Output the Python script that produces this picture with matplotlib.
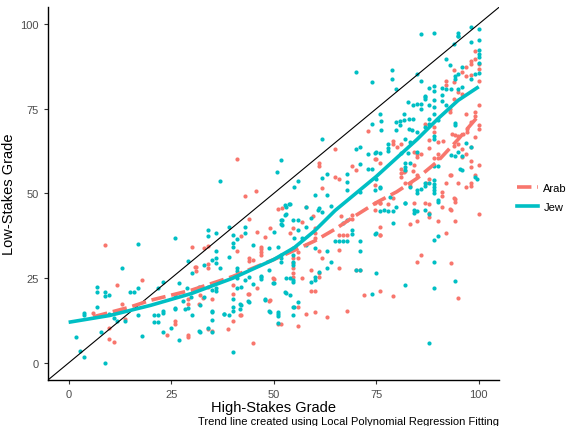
import matplotlib
matplotlib.use('Agg')
import matplotlib.pyplot as plt
from matplotlib.lines import Line2D

plt.rcParams['font.family'] = ['Liberation Sans', 'DejaVu Sans']

# scatter points (High-Stakes, Low-Stakes)
arab_pts = [
    (5.9, 14.8), (8.9, 34.9), (9.9, 10.4), (9.9, 7), (11, 6.2), (11.9, 23), (13, 17.3), (13.8, 13),
    (17.9, 24.5), (24, 8.2), (26, 12.4), (26, 11.4), (29, 19), (29, 17.3), (29, 8.2), (29, 7.8),
    (30, 34.2), (31, 28.2), (31, 27.2), (32, 20), (33, 33.9), (34, 34.4), (34, 28), (34, 29.2),
    (35, 18.9), (38.9, 10.1), (40, 23), (40, 12.4), (41, 32.9), (42, 14.1), (42, 37.5), (44, 30.9),
    (44, 30.1), (44, 20.3), (44, 42.4), (45, 30.4), (45, 5.9), (46, 38.5), (46, 22.2), (47, 32.7),
    (47, 31.9), (47, 34.1), (48, 37.2), (49, 39.8), (49, 18.6), (50, 24.8), (51, 11.4), (51, 45.3),
    (52, 45.8), (41, 60.3), (45.8, 50.8), (43, 49.2), (46.9, 33.5), (30.8, 28.2), (33.9, 22.5),
    (31.8, 17.5), (32.8, 19.3), (33.9, 10.1), (34.9, 9.3), (40, 20.3), (41.9, 14), (43.8, 20.4),
    (48.9, 18.4), (49.9, 25), (51.9, 11.6),
    (64.9, 63), (61, 59), (61, 58), (64.9, 54.9), (66, 54.2), (69, 58.1), (70, 56.9), (73, 68.3),
    (75, 60.1), (75.9, 47.3), (61.9, 51.7), (58, 46), (56.8, 41.7), (59.5, 43.3), (60, 39.9),
    (60, 38.2), (60, 36.8), (54.8, 39.7), (53.9, 38.2), (61, 33), (61.9, 31.1), (54.8, 31),
    (54.8, 29.5), (54.8, 28), (54.8, 26.5), (54.8, 25.3), (56, 32.8), (56, 30.9), (57, 25.2),
    (59, 27.4), (59, 21.1), (60, 21.3), (61.1, 26.5), (61.1, 25.5), (56, 16.5), (56, 11), (58, 14.4),
    (60, 15), (62.9, 13.7), (66, 33.3), (66, 28.1), (66, 37.9), (67, 37.9), (68, 37.9), (68, 15.2),
    (69, 43.8), (69, 42.6), (66.5, 43.5), (70, 27.5), (71, 27.5), (72, 20.1), (75.9, 21.3), (76, 37.9),
    (87, 70.6), (88, 70.3), (89, 69.6), (89, 68.1), (92, 83.3), (92, 82.1), (93, 74), (93, 75),
    (94, 86.3), (94, 82.8), (94, 77.9), (95, 79.9), (96, 86), (97, 87.2), (96, 79.4), (97, 84.8),
    (98, 85), (98, 89.2), (98, 88.2), (99, 92.1), (99, 89.7), (100, 86.8), (100, 88.2), (100, 83.3),
    (97, 73.5), (98, 71.1), (99, 74), (99, 73), (100, 76.2), (100, 70.1), (100, 68.9), (93.5, 67.5),
    (96.2, 67.6), (97.2, 68.1), (97.2, 69.1),
    (79.1, 65.5), (79.1, 64.7), (88, 65.9), (90.1, 65.2), (91.3, 65.5), (94.1, 67.2), (95, 66.9),
    (99, 66.7), (98.2, 63.7), (74.6, 60.3), (75.9, 59), (81, 64.7), (80, 63.7), (84.2, 62.3),
    (85, 61.8), (85, 60.8), (86, 61.8), (84.2, 58.3), (81, 57.1), (81, 56.1), (81, 54.9), (82.1, 56.7),
    (88, 63.5), (89.1, 60.6), (90.1, 60.6), (93.2, 55.4), (98.2, 57.8), (100, 58.3), (99, 55.4),
    (98.2, 52.2), (97, 52), (95, 53), (82.1, 53), (83.2, 53), (83.2, 52.2), (74.6, 52.5), (74.6, 47.1),
    (75.9, 47.1), (74.6, 45.1), (84.2, 47.1), (87, 47.1), (88, 46.9), (88, 44.3), (88, 43.1),
    (91.1, 46.1), (94.1, 48.5), (94.1, 47.5), (93.2, 45.1), (100, 43.9), (75.9, 40.2), (75.9, 37.7),
    (83.2, 41), (85, 42), (90.1, 42), (94.1, 42), (92.1, 38.4), (86, 31.9), (85, 29.9), (93.2, 29.4),
    (79.1, 19.9), (95, 19.1), (96, 63.2), (96, 60.8), (95, 64.7), (94, 64), (93, 55.6), (98, 53.2),
    (87.2, 53), (88, 54.2), (92, 53), (91, 50.5), (91, 49.3), (93, 45.4), (94, 48.7), (85, 55.4),
    (84, 56.5), (81.9, 56.4), (78, 47), (79, 48.8), (90, 61.8), (97, 61.8), (98, 59.5),
]

jew_pts = [
    (1.8, 7.7), (2.8, 3.6), (3.8, 1.7), (3.8, 14.8), (3.8, 14.1), (6.9, 16.4), (6.9, 22.5), (6.9, 20.8),
    (7.9, 9.2), (8.9, 20.8), (8.9, 19.8), (8.9, 0), (9.9, 20), (9.9, 14.3), (11, 13.3), (11.9, 12.4),
    (13, 28), (13.8, 12.4), (14.9, 20.8), (15.9, 20.8), (16.8, 35.2), (16.8, 22.2), (16.8, 14.1),
    (17.9, 8), (20.9, 14), (21.9, 14), (20.9, 12.2), (21.9, 12.2), (21.9, 22.2), (22.9, 24),
    (22.9, 15.3), (22.9, 14.6), (22.9, 9.2), (25, 10.4), (26, 36.9), (26, 16.3), (26, 15.8), (26, 20),
    (27, 6.7), (27, 23.5), (28, 18.3), (29, 30), (29, 16.1), (30, 26.5), (30, 14), (32, 22.2),
    (32, 17.1), (32, 9), (33, 19.5), (34, 39.1), (34, 37.4), (34, 10.2), (35, 14.9), (35, 9.2),
    (36, 32.9), (36, 31.1), (36, 29.4), (36, 22), (36, 38.3), (37, 28), (38, 14.3), (39, 40),
    (39, 31.4), (39, 14.1), (40, 37.8), (40, 34.1), (40, 19), (40, 16.4), (40, 3.3), (41, 28),
    (41, 22), (42, 17.1), (42, 22.5), (43, 40), (43, 38.3), (43, 24.5), (44, 25.5), (44, 18.1),
    (45, 34.9), (45, 23.2), (47, 25.5), (48, 18.6), (49, 15.1), (50, 38.5), (50, 23.5), (51, 14.3),
    (51, 13.8), (52, 40.8), (52, 42.3), (53, 44), (53, 20.5), (53, 25), (51.9, 60), (36.9, 53.7),
    (50.9, 56.4), (52.9, 46.1), (53.7, 47), (41, 27), (41, 25.2), (46.9, 25.8), (46.9, 24.8),
    (48.9, 27.5), (49.9, 23.6), (51.9, 31.9), (51.9, 30.9), (51.9, 29.9), (28.8, 22), (29.8, 19.5),
    (28.4, 16), (31.8, 22.3), (34.9, 21.6), (35.9, 21.1), (34.9, 15.2), (34.9, 12.8), (38, 14.5),
    (31.8, 9.3), (40, 15.2), (41.9, 17.5), (41.9, 15.9), (43.8, 18.2), (47.9, 18.8), (48.9, 15.2),
    (51, 15), (51, 11.8), (48.9, 34), (51, 34.2), (40, 35.5), (41, 36.5), (33, 29), (35, 30.5),
    (56, 53.6), (54.9, 52), (60, 49.7), (63, 49.7), (61.9, 66.2), (62.9, 55.9), (61.9, 54.7), (68, 55.9),
    (68, 53.4), (68, 51), (70, 86), (70, 63.2), (71, 63.7), (71, 58.8), (71, 50.5), (73, 61.8),
    (75, 62.1), (73, 57.1), (74, 57.1), (74, 82.8), (74, 70.6), (75, 54.4), (75.9, 51.5),
    (52.7, 46.6), (53.9, 46.8), (58, 46.1), (61.1, 45.8), (63.9, 46.4), (60.8, 45.1), (61.9, 44.6),
    (52.7, 43.8), (51.9, 42.2), (51.9, 40.9), (54.8, 42.2), (56, 42.1), (56, 39.2), (59, 42.8),
    (54.9, 36.9), (57, 36.9), (58, 40.2), (57.8, 34.8), (60, 34), (62.9, 33), (54.8, 33.8), (54.8, 31.8),
    (54.8, 29.9), (54.8, 28.9), (54.8, 24.5), (54.8, 24), (53.9, 25), (52.7, 20.9), (53.9, 20.1),
    (54.8, 16.6), (54.8, 14), (56, 18), (54.9, 16.5), (59, 24), (60, 24.5), (60, 25.5), (61.1, 26.9),
    (62.9, 28.1), (63.9, 29.7), (64.9, 36), (66, 36), (67, 36), (68, 36), (69, 39.2), (69, 38),
    (71, 36), (71, 33), (70, 27.4), (71, 27.4), (74, 20.2), (75, 26.5), (75, 38.2), (66.8, 41.2),
    (68, 42.1),
    (75.9, 73.5), (78.9, 86.3), (78.9, 83.8), (79.9, 80.9), (79.9, 71.1), (80.9, 71.4), (81.9, 71.6),
    (83, 71.9), (84, 71.9), (79.9, 68.6), (80.9, 70.1), (81.9, 73.5), (83, 69.1), (84, 76.2),
    (85, 76.5), (86, 76.5), (85, 85.3), (85, 68.1), (86, 83.3), (86, 75), (86, 97), (87, 78.9),
    (87, 77.9), (87, 69.6), (88, 81), (89, 81.6), (89, 80.1), (88, 76), (89, 75.5), (88, 72.1),
    (89, 97.3), (91, 81.1), (91, 79.1), (92, 80.9), (91, 77.2), (92, 76), (92, 89.7), (93, 87.8),
    (94, 94.1), (95, 96.6), (95, 97.3), (95, 80.9), (96, 81.4), (95, 85.3), (96, 87.2), (98, 94.6),
    (98, 99), (98, 83.8), (99, 85.3), (100, 98.5), (100, 95.4), (100, 92.2), (100, 91.2), (100, 90.2),
    (100, 88.5), (100, 85.6), (76.1, 71.4), (76.1, 68.6), (82.8, 76.9), (89.1, 77.6), (94.1, 70.8),
    (94.1, 70.1), (90.1, 71.7), (89.1, 73.5), (88, 70.6), (94.1, 84.8), (94.1, 83.8), (86.8, 78.4),
    (93.2, 80.9), (83.8, 68.8), (94.9, 96.4),
    (77.9, 64.5), (77.9, 63.5), (77.9, 62.5), (82.1, 66.2), (83.2, 65.2), (89.1, 66.9), (97, 64.9),
    (74.6, 62), (75.9, 62), (81, 62), (82.8, 62), (82.1, 59), (83.2, 59), (82.1, 57.8), (82.1, 56.9),
    (89.1, 58), (90.1, 58), (93.3, 61.3), (94.1, 61), (96, 61), (95.4, 57.1), (99.5, 54.2),
    (86.8, 53), (86.8, 52.2), (88, 53), (89.1, 53.9), (89.1, 52.9), (89.1, 51.9), (89.1, 50.9),
    (89.1, 50), (85, 51), (85, 50), (86, 51.2), (83.2, 51.8), (75.9, 52), (74.6, 51), (75.9, 44.9),
    (77, 45.1), (77.9, 44.9), (79.1, 44.9), (79.9, 45.9), (82.1, 47.1), (84.2, 45.1), (84.2, 44.1),
    (85, 44.9), (87, 45.1), (88, 43.9), (90.1, 48.2), (90.1, 47.5), (74.6, 38), (79.1, 41.2),
    (90.1, 37.5), (89.1, 36.3), (89.1, 29.9), (94.1, 24.2), (82.1, 23), (89.1, 22), (88, 5.9),
    (85, 62.2), (89, 66.2), (98, 63.7), (95, 62.1), (96, 56.9), (99, 54.9), (82, 47.3), (78.3, 49),
]

# loess trend lines
arab_fit_x = [6, 15, 20, 25, 30, 35, 40, 45, 50, 55, 60, 65, 70, 75, 80, 85, 90, 95, 100]
arab_fit_y = [13.6, 16.5, 18.5, 20, 21.5, 23.5, 25.5, 28, 30.5, 33.2, 36, 39.5, 43.5, 47.3, 50.5, 54.5, 59.5, 66, 73]
jew_fit_x = [0, 10, 20, 30, 40, 50, 55, 60, 65, 70, 75, 80, 85, 90, 95, 100]
jew_fit_y = [12, 14, 17, 20.5, 25, 30.5, 34, 39, 45, 50, 55, 60.5, 66, 72, 77.5, 81.5]

salmon = '#F8766D'
teal = '#00BFC4'

fig = plt.figure(figsize=(5.66, 4.27), dpi=100)
ax = fig.add_axes([0.085, 0.108, 0.797, 0.873])

ax.scatter([p[0] for p in arab_pts], [p[1] for p in arab_pts], s=9, color=salmon, lw=0, zorder=2)
ax.scatter([p[0] for p in jew_pts], [p[1] for p in jew_pts], s=9, color=teal, lw=0, zorder=2)

ax.axline((0, 0), slope=1, color='black', lw=0.8, zorder=3)

ax.plot(arab_fit_x, arab_fit_y, color=salmon, lw=2.6, ls=(0, (4, 1.6)), zorder=4)
ax.plot(jew_fit_x, jew_fit_y, color=teal, lw=2.6, zorder=5, solid_capstyle='butt')

ax.set_xlim(-5, 105)
ax.set_ylim(-5, 105)
ax.set_xticks([0, 25, 50, 75, 100])
ax.set_yticks([0, 25, 50, 75, 100])
for s in ['top', 'right']:
    ax.spines[s].set_visible(False)
for s in ['left', 'bottom']:
    ax.spines[s].set_linewidth(1.0)
ax.tick_params(labelsize=8, colors='#4D4D4D', length=3, width=0.8)
ax.tick_params(color='#333333')
ax.set_xlabel('High-Stakes Grade', fontsize=10.5, labelpad=1)
ax.set_ylabel('Low-Stakes Grade', fontsize=10.5, labelpad=3)

handles = [Line2D([], [], color=salmon, lw=2.6, ls=(0, (4, 1.6))),
           Line2D([], [], color=teal, lw=2.6)]
fig.legend(handles, ['Arab', 'Jew'], loc='center left', bbox_to_anchor=(0.912, 0.535),
           frameon=False, fontsize=8, handlelength=1.9, labelspacing=0.75, handletextpad=0.45,
           borderpad=0.1, borderaxespad=0)

fig.text(0.882, 0.0, 'Trend line created using Local Polynomial Regression Fitting',
         ha='right', va='bottom', fontsize=8)

fig.savefig('out.png', dpi=100)
